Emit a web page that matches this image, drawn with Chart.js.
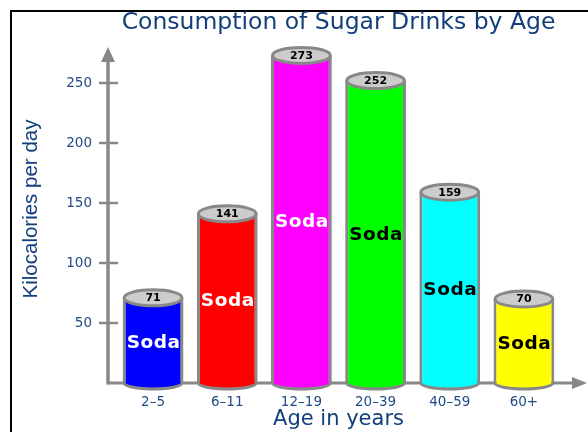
<!DOCTYPE html>
<html>
<head>
<meta charset="utf-8">
<script src="https://cdn.jsdelivr.net/npm/chart.js@4"></script>
<style>
  body { margin: 0; background: #fff; }
  #wrap { position: relative; width: 588px; height: 432px; overflow: hidden; }
  #frame { position: absolute; left: 10px; top: 10px; width: 700px; height: 600px;
           border-left: 2px solid #000; border-top: 2px solid #000; }
  canvas { position: absolute; left: 0; top: 0; }
</style>
</head>
<body>
<div id="wrap">
  <div id="frame"></div>
  <canvas id="sodaChart" width="588" height="432"></canvas>
</div>
<script>
const ageGroups = ['2–5', '6–11', '12–19', '20–39', '40–59', '60+'];
const kcalPerDay = [71, 141, 273, 252, 159, 70];
const canColors = ['#0000ff', '#ff0000', '#ff00ff', '#00ff00', '#00ffff', '#ffff00'];
const sodaTextColors = ['#ffffff', '#ffffff', '#ffffff', '#000000', '#000000', '#000000'];
const yTickValues = [50, 100, 150, 200, 250];

const AXIS_GRAY = '#888888';
const TITLE_BLUE = '#123f7c';
const LABEL_BLUE = '#1f4b86';

// gray axes with arrow heads, drawn under the cans
const arrowAxes = {
    id: 'arrowAxes',
    beforeDatasetsDraw(chart) {
        const ctx = chart.ctx;
        const yScale = chart.scales.y;
        const axisX = chart.chartArea.left - 8;
        const axisY = yScale.getPixelForValue(0);
        const topY = yScale.getPixelForValue(280);
        const rightX = chart.width - 1;

        ctx.save();
        ctx.strokeStyle = AXIS_GRAY;
        ctx.fillStyle = AXIS_GRAY;

        ctx.lineWidth = 3.5;
        ctx.beginPath();
        ctx.moveTo(axisX, axisY + 1.5);
        ctx.lineTo(axisX, topY + 12);
        ctx.stroke();

        ctx.lineWidth = 3;
        ctx.beginPath();
        ctx.moveTo(axisX, axisY);
        ctx.lineTo(rightX - 12, axisY);
        ctx.stroke();

        ctx.beginPath();
        ctx.moveTo(axisX, topY);
        ctx.lineTo(axisX - 7, topY + 15);
        ctx.lineTo(axisX + 7, topY + 15);
        ctx.closePath();
        ctx.fill();

        ctx.beginPath();
        ctx.moveTo(rightX, axisY);
        ctx.lineTo(rightX - 15, axisY - 6);
        ctx.lineTo(rightX - 15, axisY + 6);
        ctx.closePath();
        ctx.fill();

        ctx.lineWidth = 2.5;
        yTickValues.forEach(v => {
            const py = yScale.getPixelForValue(v);
            ctx.beginPath();
            ctx.moveTo(axisX - 9, py);
            ctx.lineTo(axisX + 10, py);
            ctx.stroke();
        });
        ctx.restore();
    }
};

// turn each bar into a can: round bottom, gray lid with the value, "Soda" label
const sodaCans = {
    id: 'sodaCans',
    afterDatasetsDraw(chart) {
        const ctx = chart.ctx;
        const meta = chart.getDatasetMeta(0);

        ctx.save();
        ctx.lineWidth = 3;
        ctx.strokeStyle = AXIS_GRAY;
        ctx.textAlign = 'center';
        ctx.textBaseline = 'middle';

        meta.data.forEach((bar, i) => {
            const p = bar.getProps(['x', 'y', 'base', 'width'], true);
            const rx = p.width / 2 - 1.5;

            // bottom of the can
            ctx.beginPath();
            ctx.ellipse(p.x, p.base, rx, 6, 0, 0, Math.PI);
            ctx.fillStyle = canColors[i];
            ctx.fill();
            ctx.stroke();

            // lid
            ctx.beginPath();
            ctx.ellipse(p.x, p.y, rx, 8, 0, 0, Math.PI * 2);
            ctx.fillStyle = '#cccccc';
            ctx.fill();
            ctx.stroke();

            ctx.letterSpacing = '0px';
            ctx.fillStyle = '#000000';
            ctx.font = 'bold 11px "DejaVu Sans"';
            ctx.fillText(String(kcalPerDay[i]), p.x, p.y + 0.5);

            ctx.letterSpacing = '0.5px';
            ctx.fillStyle = sodaTextColors[i];
            ctx.font = 'bold 18.5px "DejaVu Sans"';
            ctx.fillText('Soda', p.x + 0.5, (p.y + p.base) / 2 + 3);
        });
        ctx.restore();
    }
};

new Chart(document.getElementById('sodaChart'), {
    type: 'bar',
    data: {
        labels: ageGroups,
        datasets: [{
            data: kcalPerDay,
            backgroundColor: canColors,
            borderColor: AXIS_GRAY,
            borderWidth: { left: 3, right: 3, top: 0, bottom: 0 },
            borderSkipped: false,
            categoryPercentage: 1,
            barPercentage: 0.82
        }]
    },
    options: {
        responsive: false,
        animation: false,
        layout: { padding: { left: 0, right: 27, top: 0, bottom: 0 } },
        plugins: {
            legend: { display: false },
            tooltip: { enabled: false },
            title: {
                display: true,
                fullSize: false,
                text: 'Consumption of Sugar Drinks by Age',
                color: TITLE_BLUE,
                font: { family: 'DejaVu Sans', size: 23.5, weight: 'normal', lineHeight: '24px' },
                padding: { top: 11, bottom: 0 }
            }
        },
        scales: {
            x: {
                grid: { display: false, drawTicks: false },
                border: { display: false },
                ticks: { color: LABEL_BLUE, font: { family: 'DejaVu Sans', size: 13.5 }, padding: 11 },
                title: {
                    display: true,
                    text: 'Age in years',
                    color: TITLE_BLUE,
                    font: { family: 'DejaVu Sans', size: 21 },
                    padding: { top: 0, bottom: 0 }
                },
                afterFit(scale) { scale.height = 49; }
            },
            y: {
                min: 0,
                max: 290,
                grid: { display: false, drawTicks: false },
                border: { display: false },
                afterBuildTicks(scale) {
                    scale.ticks = yTickValues.map(v => ({ value: v }));
                },
                ticks: { color: LABEL_BLUE, font: { family: 'DejaVu Sans', size: 13.5 }, padding: 24 },
                title: {
                    display: true,
                    text: 'Kilocalories per day',
                    color: TITLE_BLUE,
                    font: { family: 'Liberation Sans', size: 20.5 },
                    padding: { top: 19, bottom: 0 }
                },
                afterFit(scale) { scale.width = 116; }
            }
        }
    },
    plugins: [arrowAxes, sodaCans]
});
</script>
</body>
</html>
